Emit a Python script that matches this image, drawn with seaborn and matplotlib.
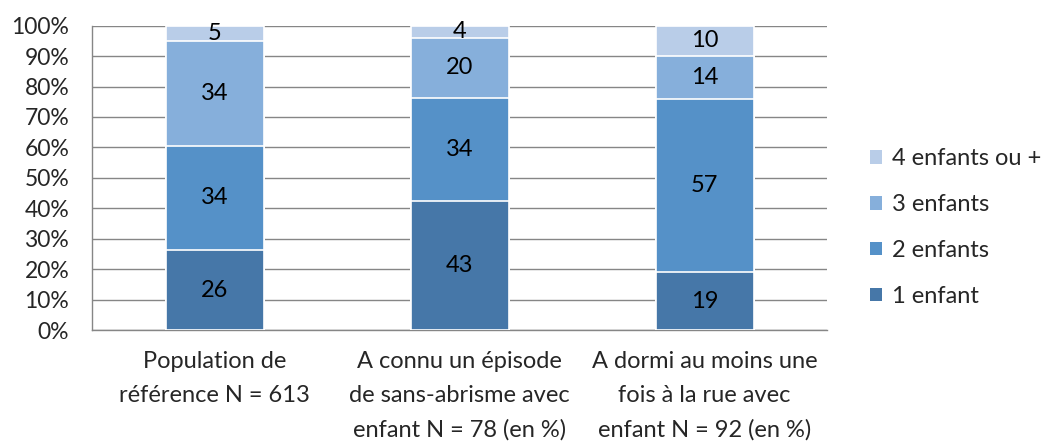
import numpy as np
import pandas as pd
import matplotlib.pyplot as plt
import seaborn as sns
from matplotlib.patches import Patch
from matplotlib.ticker import FixedLocator, PercentFormatter

groups = ["Population de\nréférence N = 613",
          "A connu un épisode\nde sans-abrisme avec\nenfant N = 78 (en %)",
          "A dormi au moins une\nfois à la rue avec\nenfant N = 92 (en %)"]
series = ["1 enfant", "2 enfants", "3 enfants", "4 enfants ou +"]
one_child = [26, 43, 19]
two_children = [34, 34, 57]
three_children = [34, 20, 14]
four_plus = [5, 4, 10]
colors = ["#4677a8", "#5591c8", "#86afdb", "#b9cde8"]

sns.set_style("white")
plt.rcParams['font.family'] = ['Lato', 'DejaVu Sans']

vals = np.array([one_child, two_children, three_children, four_plus], dtype=float)
shares = vals / vals.sum(axis=0) * 100
cum = shares.cumsum(axis=0)

fig = plt.figure(figsize=(10.47, 4.42), dpi=100)
ax = fig.add_axes([0.088, 0.253, 0.702, 0.689])

# stacked bars: draw cumulative totals from the top segment down
for i in range(len(series) - 1, -1, -1):
    df = pd.DataFrame({"group": groups, "top": cum[i]})
    sns.barplot(data=df, x="group", y="top", color=colors[i], width=0.4,
                edgecolor="white", linewidth=1.2, saturation=1, ax=ax, zorder=3)

for i in range(len(series)):
    for j in range(len(groups)):
        mid = cum[i, j] - shares[i, j] / 2
        ax.text(j, mid, f"{vals[i, j]:.0f}", ha="center", va="center",
                fontsize=17, color="black", zorder=5)

ax.set_ylim(0, 100)
ax.set_xlim(-0.5, 2.5)
ax.set_yticks(np.arange(0, 101, 10))
ax.yaxis.set_major_formatter(PercentFormatter(decimals=0))
ax.grid(axis="y", color="#868686", linewidth=1, zorder=0)
ax.set_axisbelow(True)
ax.set_xlabel("")
ax.set_ylabel("")
for s in ["top", "right"]:
    ax.spines[s].set_visible(False)
for s in ["left", "bottom"]:
    ax.spines[s].set_color("#868686")
    ax.spines[s].set_linewidth(1)
ax.tick_params(axis="y", length=6.5, color="#868686", labelsize=16.5, pad=10)
ax.xaxis.set_minor_locator(FixedLocator([-0.5, 0.5, 1.5, 2.5]))
ax.tick_params(axis="x", which="minor", length=7, color="#868686", direction="out")
ax.set_xticks(range(len(groups)), groups, fontsize=17, linespacing=1.75, va="top")
ax.tick_params(axis="x", which="major", length=0, pad=15)

handles = [Patch(facecolor=colors[i], edgecolor="none", label=series[i]) for i in range(len(series) - 1, -1, -1)]
fig.legend(handles=handles, loc="center left", bbox_to_anchor=(0.831, 0.485),
           frameon=False, fontsize=17, handlelength=0.5, handleheight=0.5,
           handletextpad=0.45, labelspacing=1.05, borderpad=0, borderaxespad=0)

plt.savefig("out.png", dpi=100)
